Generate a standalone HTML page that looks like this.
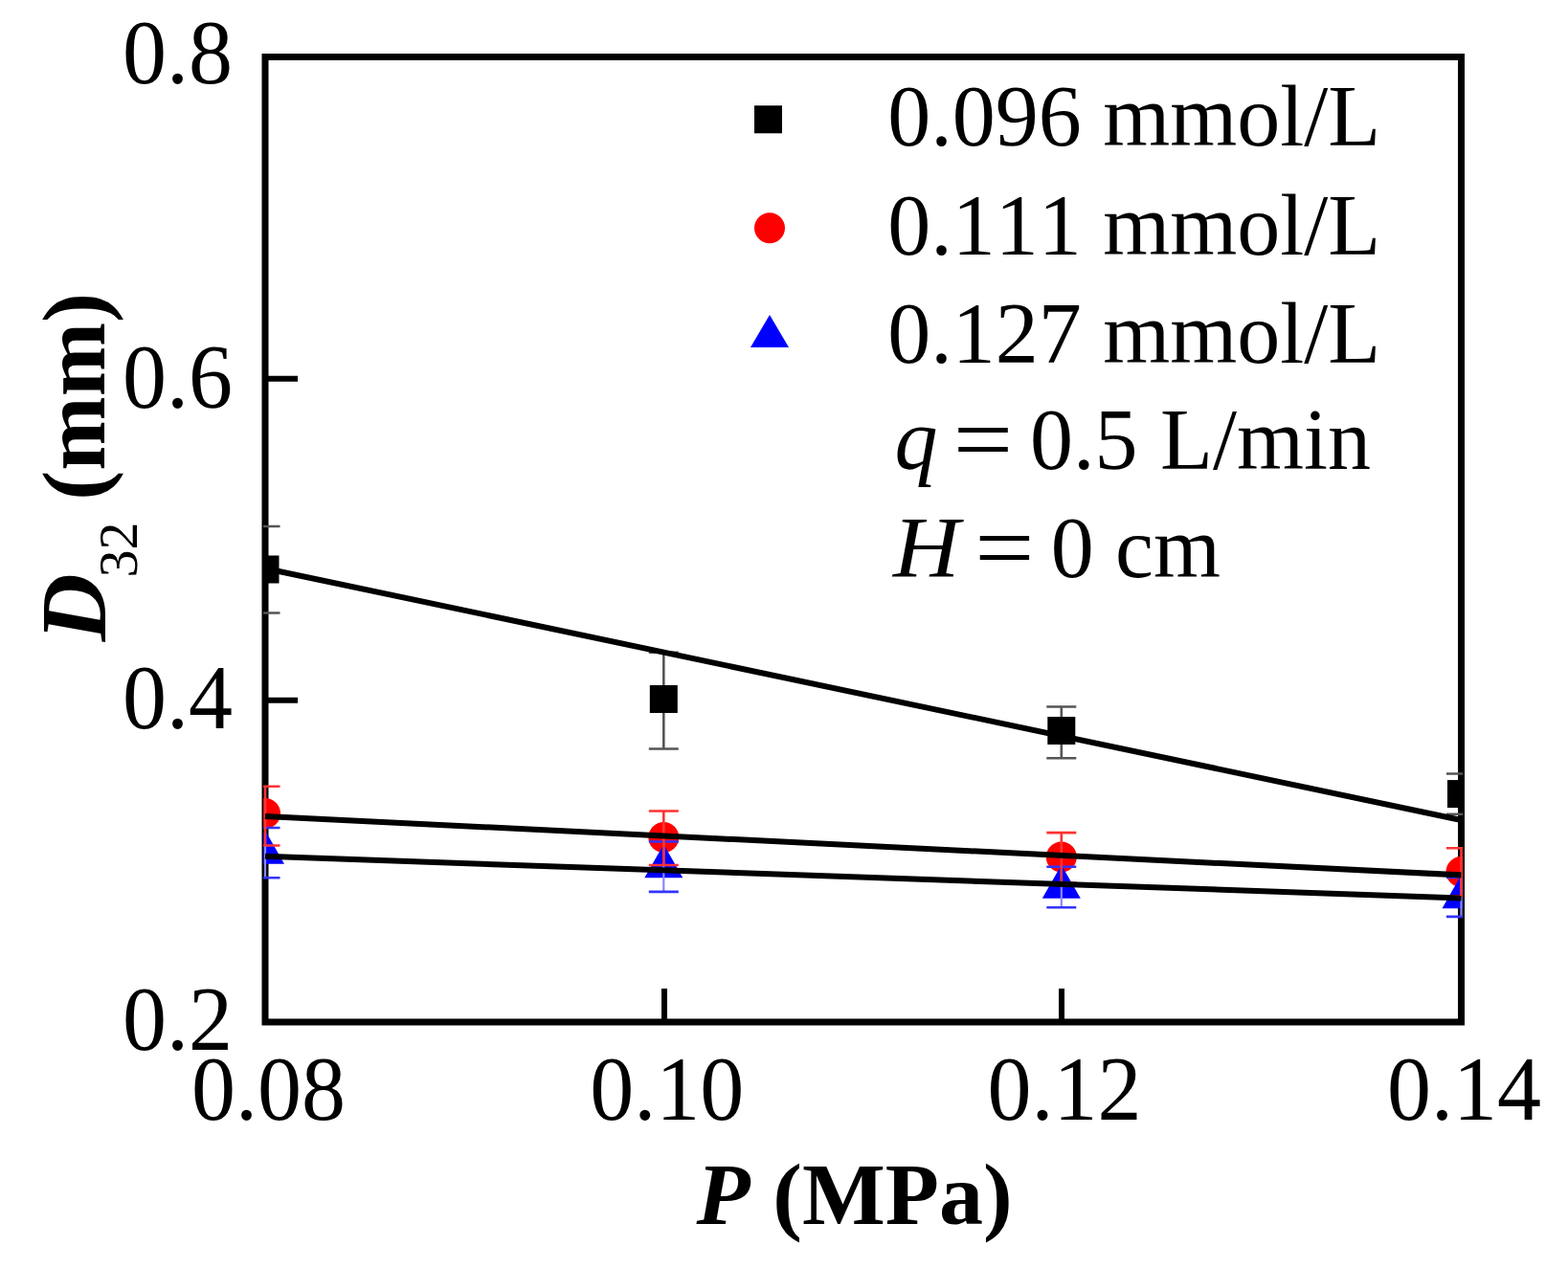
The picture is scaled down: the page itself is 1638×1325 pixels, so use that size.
<!DOCTYPE html>
<html><head><meta charset="utf-8"><title>D32 vs P</title>
<style>
html,body{margin:0;padding:0;background:#fff;width:1638px;height:1325px;overflow:hidden}
svg{display:block;font-kerning:none}
text{fill:#000}
</style></head>
<body>
<svg width="1638" height="1325" viewBox="0 0 1638 1325" font-family="'Liberation Serif', 'Times New Roman', serif">
<defs><clipPath id="pc"><rect x="275" y="56" width="1253" height="1016"/></clipPath></defs>
<rect width="1638" height="1325" fill="#fff"/>
<rect x="277.0" y="59.5" width="1249.5" height="1008.5" fill="none" stroke="#000" stroke-width="7"/>
<path d="M277.0 395.7h34M277.0 731.8h34M694 1068.0v-35M1109 1068.0v-35" stroke="#000" stroke-width="6"/>
<g clip-path="url(#pc)">
<path d="M277.0 550.0V640.5" stroke="#000" stroke-width="2.6"/><path d="M261.5 550.0h31M261.5 640.5h31" stroke="#555" stroke-width="2.6"/>
<path d="M693.3 681.7V782.5M677.8 681.7h31M677.8 782.5h31" stroke="#555" stroke-width="2.6" fill="none"/>
<path d="M1108.8 738.5V792.3M1093.3 738.5h31M1093.3 792.3h31" stroke="#555" stroke-width="2.6" fill="none"/>
<path d="M1526.5 808.5V850.7" stroke="#000" stroke-width="2.6"/><path d="M1511.0 808.5h31M1511.0 850.7h31" stroke="#555" stroke-width="2.6"/>
<rect x="262.5" y="580.5" width="29" height="29" fill="#000"/>
<rect x="678.8" y="716.0" width="29" height="29" fill="#000"/>
<rect x="1094.3" y="749.0" width="29" height="29" fill="#000"/>
<rect x="1512.0" y="815.1" width="29" height="29" fill="#000"/>
<circle cx="277.0" cy="850.0" r="16" fill="#f00"/>
<circle cx="693.3" cy="875.0" r="16" fill="#f00"/>
<circle cx="1108.8" cy="895.5" r="16" fill="#f00"/>
<circle cx="1526.5" cy="911.0" r="16" fill="#f00"/>
<polygon points="277.0,867.7 257.0,902.7 297.0,902.7" fill="#00f"/>
<polygon points="693.3,882.2 673.3,917.2 713.3,917.2" fill="#00f"/>
<polygon points="1108.8,903.7 1088.8,938.7 1128.8,938.7" fill="#00f"/>
<polygon points="1526.5,914.2 1506.5,949.2 1546.5,949.2" fill="#00f"/>
<path d="M277.0 865.0V917.3" stroke="#88f" stroke-width="2.2" fill="none"/>
<path d="M261.5 865.0h31M261.5 917.3h31" stroke="#33f" stroke-width="2.6" fill="none"/>
<path d="M693.3 879.5V931.9" stroke="#88f" stroke-width="2.2" fill="none"/>
<path d="M677.8 879.5h31M677.8 931.9h31" stroke="#33f" stroke-width="2.6" fill="none"/>
<path d="M1108.8 905.7V948.3" stroke="#88f" stroke-width="2.2" fill="none"/>
<path d="M1093.3 905.7h31M1093.3 948.3h31" stroke="#33f" stroke-width="2.6" fill="none"/>
<path d="M1526.5 917.0V957.9" stroke="#88f" stroke-width="2.2" fill="none"/>
<path d="M1511.0 917.0h31M1511.0 957.9h31" stroke="#33f" stroke-width="2.6" fill="none"/>
<path d="M277.0 821.7V883.5M261.5 821.7h31M261.5 883.5h31" stroke="#f33" stroke-width="2.6" fill="none"/>
<path d="M693.3 847.5V904.0M677.8 847.5h31M677.8 904.0h31" stroke="#f33" stroke-width="2.6" fill="none"/>
<path d="M1108.8 870.1V922.5M1093.3 870.1h31M1093.3 922.5h31" stroke="#f33" stroke-width="2.6" fill="none"/>
<path d="M1526.5 886.2V936.4M1511.0 886.2h31M1511.0 936.4h31" stroke="#f33" stroke-width="2.6" fill="none"/>
<line x1="277.0" y1="594.0" x2="1526.5" y2="857.0" stroke="#000" stroke-width="6"/>
<line x1="277.0" y1="853.0" x2="1526.5" y2="914.4" stroke="#000" stroke-width="6"/>
<line x1="277.0" y1="894.8" x2="1526.5" y2="938.5" stroke="#000" stroke-width="6"/>
</g>
<g font-size="92" text-anchor="end">
<text x="243" y="87" transform="translate(0,87) scale(1,1.03) translate(0,-87)">0.8</text>
<text x="243" y="426" transform="translate(0,426) scale(1,1.03) translate(0,-426)">0.6</text>
<text x="243" y="761" transform="translate(0,761) scale(1,1.03) translate(0,-761)">0.4</text>
<text x="243" y="1097" transform="translate(0,1097) scale(1,1.03) translate(0,-1097)">0.2</text>
</g>
<g font-size="92" text-anchor="middle">
<text x="280.4" y="1170" transform="translate(0,1170) scale(1,1.03) translate(0,-1170)">0.08</text>
<text x="696.8" y="1170" transform="translate(0,1170) scale(1,1.03) translate(0,-1170)">0.10</text>
<text x="1112.1" y="1170" transform="translate(0,1170) scale(1,1.03) translate(0,-1170)">0.12</text>
<text x="1529.5" y="1170" transform="translate(0,1170) scale(1,1.03) translate(0,-1170)">0.14</text>
</g>
<rect x="788.0" y="110.3" width="29" height="29" fill="#000"/>
<circle cx="804.0" cy="238.3" r="16" fill="#f00"/>
<polygon points="804,329 784,363 824,363" fill="#00f"/>
<g font-size="90">
<text x="927.2" y="151.5">0.096 mmol/L</text>
<text x="927.2" y="265.5">0.111 mmol/L</text>
<text x="927.2" y="378.7">0.127 mmol/L</text>
<text x="934.6" y="490" font-style="italic">q</text>
<text x="996.2" y="492.6" font-size="100" transform="translate(1001.2,0) scale(1.108,1) translate(-1001.2,0)">=</text>
<text x="1076.1" y="490">0.5</text>
<text x="1212" y="490">L/min</text>
<text x="933" y="603" font-style="italic" transform="translate(933,0) scale(1.07,1) translate(-933,0)">H</text>
<text x="1018.8" y="606" font-size="100" transform="translate(1023.8,0) scale(1.104,1) translate(-1023.8,0)">=</text>
<text x="1097.8" y="603">0</text>
<text x="1165.1" y="603">cm</text>
</g>
<g font-size="92" font-weight="bold">
<text x="727.4" y="1278.5" font-style="italic">P</text>
<text x="807.3" y="1278.7">(MPa)</text>
</g>
<g transform="translate(0,700) rotate(-90)" font-weight="bold">
<text x="29.7" y="110" font-size="98" font-style="italic">D</text>
<text x="96.6" y="143.4" font-size="58" font-weight="normal">32</text>
<text x="177.2" y="109" font-size="93">(mm)</text>
</g>
</svg>
</body></html>
